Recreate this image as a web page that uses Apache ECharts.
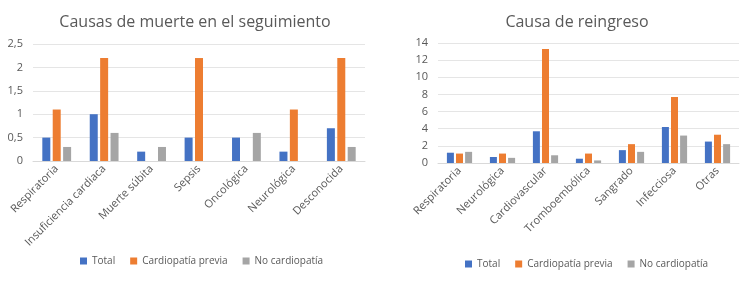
<!DOCTYPE html>
<html>
<head>
<meta charset="utf-8">
<script src="https://cdn.jsdelivr.net/npm/echarts@6/dist/echarts.min.js"></script>
<style>
  html, body { margin: 0; padding: 0; background: #fff; }
  #main { width: 750px; height: 290px; }
</style>
</head>
<body>
<div id="main"></div>
<script>
// left chart: causas de muerte
var catMuerte = ['Respiratoria', 'Insuficiencia cardiaca', 'Muerte súbita', 'Sepsis', 'Oncológica', 'Neurológica', 'Desconocida'];
var muerteTotal = [0.5, 1.0, 0.2, 0.5, 0.5, 0.2, 0.7];
var muerteCardio = [1.1, 2.2, 0, 2.2, 0, 1.1, 2.2];
var muerteNoCardio = [0.3, 0.6, 0.3, 0, 0.6, 0, 0.3];

// right chart: reingreso
var catReingreso = ['Respiratoria', 'Neurológica', 'Cardiovascular', 'Tromboembólica', 'Sangrado', 'Infecciosa', 'Otras'];
var reingTotal = [1.2, 0.7, 3.7, 0.5, 1.5, 4.2, 2.5];
var reingCardio = [1.1, 1.1, 13.3, 1.1, 2.2, 7.7, 3.3];
var reingNoCardio = [1.3, 0.6, 0.9, 0.3, 1.3, 3.2, 2.2];

var seriesNames = ['Total', 'Cardiopatía previa', 'No cardiopatía'];
var colors = ['#4472C4', '#ED7D31', '#A5A5A5'];
var font = 'Open Sans';
var txt = '#595959';

function fmt(v) { return String(v).replace('.', ','); }

function bar(name, data, idx, color, bw) {
  return {
    name: name, type: 'bar', data: data,
    xAxisIndex: idx, yAxisIndex: idx,
    barWidth: bw, barGap: '30%',
    itemStyle: { color: color }
  };
}

function legend(left, top) {
  return {
    data: seriesNames, left: left, top: top,
    itemWidth: 7, itemHeight: 7, itemGap: 15, icon: 'rect',
    textStyle: { fontFamily: font, fontSize: 10, color: txt }
  };
}

var chart = echarts.init(document.getElementById('main'));
chart.setOption({
  animation: false,
  textStyle: { fontFamily: font },
  title: [
    { text: 'Causas de muerte en el seguimiento', left: 190, top: 9, textAlign: 'center',
      textStyle: { fontFamily: font, fontSize: 16, fontWeight: 'normal', color: txt } },
    { text: 'Causa de reingreso', left: 572, top: 9, textAlign: 'center',
      textStyle: { fontFamily: font, fontSize: 16, fontWeight: 'normal', color: txt } }
  ],
  legend: [legend(75, 251), legend(460, 254)],
  grid: [
    { left: 33, top: 44, width: 332, height: 117 },
    { left: 438, top: 43, width: 301, height: 120 }
  ],
  xAxis: [
    { type: 'category', data: catMuerte, gridIndex: 0,
      axisLine: { lineStyle: { color: '#D9D9D9' } }, axisTick: { show: false },
      axisLabel: { rotate: 45, color: txt, fontSize: 11, fontFamily: font, interval: 0, margin: 6 } },
    { type: 'category', data: catReingreso, gridIndex: 1,
      axisLine: { lineStyle: { color: '#D9D9D9' } }, axisTick: { show: false },
      axisLabel: { rotate: 45, color: txt, fontSize: 11, fontFamily: font, interval: 0, margin: 6 } }
  ],
  yAxis: [
    { type: 'value', gridIndex: 0, min: 0, max: 2.5, interval: 0.5,
      axisLine: { show: false }, axisTick: { show: false },
      splitLine: { lineStyle: { color: '#E5E5E5' } },
      axisLabel: { color: txt, fontSize: 11, fontFamily: font, margin: 10, formatter: fmt } },
    { type: 'value', gridIndex: 1, min: 0, max: 14, interval: 2,
      axisLine: { show: false }, axisTick: { show: false },
      splitLine: { lineStyle: { color: '#E5E5E5' } },
      axisLabel: { color: txt, fontSize: 11, fontFamily: font, margin: 10 } }
  ],
  series: [
    bar('Total', muerteTotal, 0, colors[0], 8),
    bar('Cardiopatía previa', muerteCardio, 0, colors[1], 8),
    bar('No cardiopatía', muerteNoCardio, 0, colors[2], 8),
    bar('Total', reingTotal, 1, colors[0], 7),
    bar('Cardiopatía previa', reingCardio, 1, colors[1], 7),
    bar('No cardiopatía', reingNoCardio, 1, colors[2], 7)
  ]
});
</script>
</body>
</html>
